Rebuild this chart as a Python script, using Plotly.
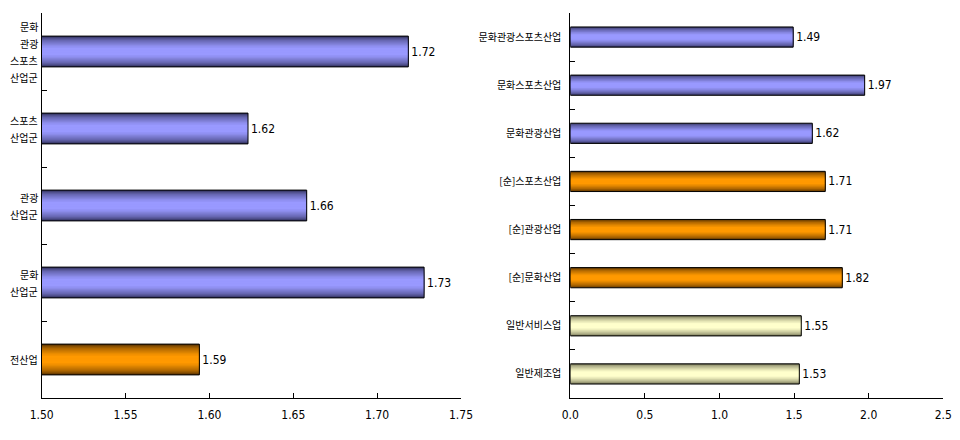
import plotly.graph_objects as go

# ---- data ----
left_categories = ["문화<br>관광<br>스포츠<br>산업군", "스포츠<br>산업군", "관광<br>산업군", "문화<br>산업군", "전산업"]
left_values = [1.7186, 1.623, 1.658, 1.728, 1.594]
left_groups = ["blue", "blue", "blue", "blue", "orange"]

right_categories = ["문화관광스포츠산업", "문화스포츠산업", "문화관광산업", "[순]스포츠산업",
                    "[순]관광산업", "[순]문화산업", "일반서비스업", "일반제조업"]
right_values = [1.494, 1.973, 1.622, 1.709, 1.709, 1.823, 1.548, 1.535]
right_groups = ["blue", "blue", "blue", "orange", "orange", "orange", "cream", "cream"]

left_ticks = [1.50, 1.55, 1.60, 1.65, 1.70, 1.75]
right_ticks = [0.0, 0.5, 1.0, 1.5, 2.0, 2.5]

# gradient colours: (edge, centre)
palette = {
    "blue": ((50, 50, 95), (153, 153, 255)),
    "orange": ((90, 50, 0), (255, 153, 0)),
    "cream": ((110, 110, 80), (255, 255, 204)),
}

NUM_FONT = "Liberation Sans Narrow, DejaVu Sans Condensed, Arial Narrow, sans-serif"
KR_FONT = "Noto Sans CJK KR, sans-serif"

# page has an 8px body margin; figure sized to fit the 960x440 window exactly
W, H, OFF = 944, 424, 8
LINE_GAP = 17  # px between lines of the multi-line left labels

fig = go.Figure()


def mix(a, b, t):
    return "rgb(%d,%d,%d)" % tuple(round(a[i] + (b[i] - a[i]) * t) for i in range(3))


def add_bars(cats, vals, groups, width, xa, ya):
    n_layers = 12
    for g, (edge, centre) in palette.items():
        idx = [i for i, gg in enumerate(groups) if gg == g]
        if not idx:
            continue
        cs = [cats[i] for i in idx]
        vs = [vals[i] for i in idx]
        for k in range(n_layers):
            frac = k / n_layers
            w = width * (1 - frac)
            t = min(1.0, (frac / 0.75) ** 0.6)
            fig.add_trace(go.Bar(
                y=cs, x=vs, orientation="h", width=w,
                marker=dict(color=mix(edge, centre, t), line=dict(width=0)),
                xaxis=xa, yaxis=ya, showlegend=False, hoverinfo="skip",
            ))
    # outline + labels on top
    fig.add_trace(go.Bar(
        y=cats, x=vals, orientation="h", width=width,
        marker=dict(color="rgba(0,0,0,0)", line=dict(color="black", width=1)),
        texttemplate="%{x:.2f}", textposition="outside",
        textfont=dict(family=NUM_FONT, size=12, color="black"),
        cliponaxis=False, xaxis=xa, yaxis=ya, showlegend=False,
    ))


add_bars(left_categories, left_values, left_groups, 0.4, "x", "y")
add_bars(right_categories, right_values, right_groups, 0.42, "x2", "y2")

# left category labels, one annotation per line for a roomier line spacing
for cat in left_categories:
    lines = cat.split("<br>")
    n = len(lines)
    for j, line in enumerate(lines):
        fig.add_annotation(
            x=0, xref="x domain", y=cat, yref="y",
            text=line, showarrow=False, xanchor="right", yanchor="middle",
            xshift=-2, yshift=((n - 1) / 2 - j) * LINE_GAP,
            font=dict(family=KR_FONT, size=10, color="black"),
        )

axis_common = dict(showline=True, linecolor="black", linewidth=1, showgrid=False,
                   zeroline=False, ticks="inside", ticklen=5, tickcolor="black",
                   automargin=False)


def xd(a, b):
    return [(a - OFF) / W, (b - OFF) / W]


ydom = [1 - (398 - OFF) / H, 1 - (13 - OFF) / H]

fig.update_layout(
    width=W, height=H,
    margin=dict(l=0, r=0, t=0, b=0),
    paper_bgcolor="white", plot_bgcolor="white",
    barmode="overlay",
    xaxis=dict(domain=xd(41.7, 461), range=[1.5, 1.75], anchor="y",
               tickvals=left_ticks, ticktext=["%.2f" % v for v in left_ticks],
               tickfont=dict(family=NUM_FONT, size=12, color="black"),
               ticklabelstandoff=6, **axis_common),
    yaxis=dict(domain=ydom, anchor="x", autorange="reversed",
               tickson="boundaries", showticklabels=False, **axis_common),
    xaxis2=dict(domain=xd(570.3, 943.3), range=[0, 2.5], anchor="y2",
                tickvals=right_ticks, ticktext=["%.1f" % v for v in right_ticks],
                tickfont=dict(family=NUM_FONT, size=12, color="black"),
                ticklabelstandoff=6, **axis_common),
    yaxis2=dict(domain=ydom, anchor="x2", autorange="reversed",
                tickson="boundaries", ticklabelstandoff=6,
                tickfont=dict(family=KR_FONT, size=10, color="black"), **axis_common),
)

fig.write_html("out.html")
